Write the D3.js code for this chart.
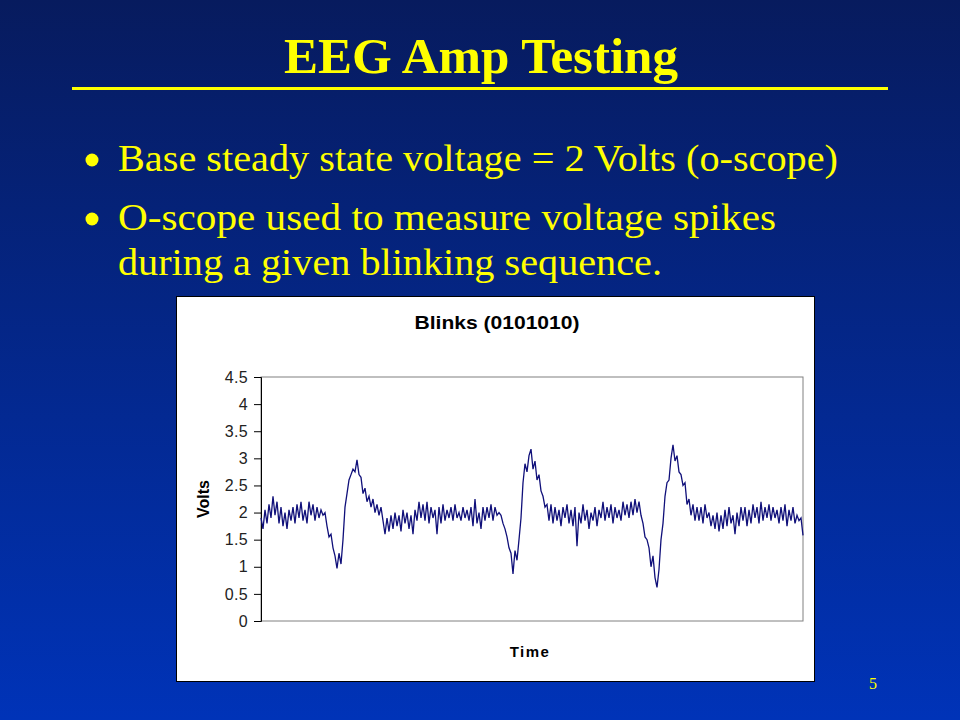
<!DOCTYPE html>
<html><head><meta charset="utf-8">
<script src="https://cdn.jsdelivr.net/npm/d3@7/dist/d3.min.js"></script>
<style>body{margin:0;padding:0;overflow:hidden;}svg{display:block;}</style>
</head><body>
<script>
const slideTitle = "EEG Amp Testing";
const bullets = [
  ["Base steady state voltage = 2 Volts (o-scope)"],
  ["O-scope used to measure voltage spikes", "during a given blinking sequence."]
];
const chartTitle = "Blinks (0101010)";
const yLabel = "Volts";
const xLabel = "Time";
const pageNumber = "5";
const yTicks = [0, 0.5, 1, 1.5, 2, 2.5, 3, 3.5, 4, 4.5];
const volts = [
 1.9,1.7,2.05,1.8,2.15,1.9,2.3,1.95,2.2,1.8,
 2.1,1.75,2.0,1.7,2.05,1.85,2.1,1.8,2.15,1.9,
 2.2,1.85,2.05,1.8,2.2,1.95,2.15,1.85,2.1,1.9,
 2.05,1.95,2.0,1.75,1.55,1.6,1.35,1.2,0.97,1.25,
 1.05,1.5,2.1,2.35,2.6,2.7,2.8,2.75,2.97,2.7,
 2.65,2.35,2.45,2.2,2.3,2.1,2.25,2.0,2.15,1.95,
 2.1,1.85,1.6,1.9,1.65,1.95,1.7,2.0,1.75,1.95,
 1.65,2.05,1.8,2.0,1.7,1.95,1.6,2.05,1.85,2.2,
 1.9,2.15,1.85,2.2,1.8,2.1,1.9,2.05,1.6,2.1,
 1.8,2.15,1.85,2.05,1.9,2.1,1.85,2.15,1.9,2.0,
 1.85,2.1,1.9,2.05,1.85,2.1,1.75,2.25,1.8,2.0,
 1.7,2.1,1.85,2.1,1.9,2.15,1.85,2.1,1.95,2.0,
 1.95,1.8,1.7,1.55,1.35,1.25,0.87,1.3,1.12,1.5,
 1.9,2.55,2.9,2.75,3.05,3.17,2.8,2.95,2.6,2.7,
 2.4,2.3,2.1,2.15,1.85,2.15,1.8,2.1,1.85,2.05,
 1.75,2.1,1.9,2.15,1.8,2.05,1.75,2.1,1.38,2.0,
 1.8,2.15,1.85,2.05,1.7,2.0,1.85,2.1,1.75,2.05,
 1.9,2.2,1.85,2.1,1.9,2.15,1.8,2.1,1.9,2.05,
 1.85,2.2,1.95,2.15,1.9,2.2,1.95,2.25,2.0,2.2,
 1.95,1.8,1.55,1.5,1.35,1.0,1.2,0.8,0.62,0.95,
 1.5,1.8,2.3,2.55,2.6,3.0,3.25,2.95,3.05,2.75,
 2.7,2.5,2.55,2.15,2.25,1.95,2.15,1.85,2.1,1.85,
 2.1,1.8,2.15,1.9,2.0,1.75,1.95,1.7,2.0,1.65,
 1.95,1.7,2.05,1.75,2.1,1.8,1.95,1.6,2.0,1.75,
 2.1,1.85,2.1,1.75,2.05,1.8,2.15,1.9,2.1,1.8,
 2.2,1.85,2.1,1.9,2.15,1.85,2.1,1.9,2.05,1.8,
 2.1,1.85,2.15,1.75,2.05,1.85,2.1,1.8,1.95,1.85,
 1.9,1.58
];

const W = 960, H = 720;
const svg = d3.select("body").append("svg").attr("width", W).attr("height", H);
const defs = svg.append("defs");
const grad = defs.append("linearGradient").attr("id","bg").attr("x1",0).attr("y1",0).attr("x2",0).attr("y2",1);
grad.append("stop").attr("offset","0%").attr("stop-color","#071b5e");
grad.append("stop").attr("offset","100%").attr("stop-color","#0033b8");
svg.append("rect").attr("width",W).attr("height",H).attr("fill","url(#bg)");

const serif = "'Liberation Serif','Times New Roman',serif";
const sans = "'Liberation Sans',Arial,sans-serif";
const yellow = "#ffff00";

svg.append("text").attr("x",481).attr("y",73).attr("text-anchor","middle")
  .attr("font-family",serif).attr("font-weight","bold").attr("font-size",50)
  .attr("textLength",394).attr("lengthAdjust","spacingAndGlyphs")
  .attr("fill",yellow).text(slideTitle);
svg.append("rect").attr("x",72).attr("y",87).attr("width",816).attr("height",3).attr("fill",yellow);

const bulletY = [171, 230];
const lineWidths = [[720],[658, 544]];
bullets.forEach((lines, bi) => {
  svg.append("circle").attr("cx",92).attr("cy",bulletY[bi]-11).attr("r",6.5).attr("fill",yellow);
  lines.forEach((ln, li) => {
    svg.append("text").attr("x",118).attr("y",bulletY[bi] + li*45)
      .attr("font-family",serif).attr("font-size",38).attr("fill",yellow)
      .attr("textLength",lineWidths[bi][li]).attr("lengthAdjust","spacingAndGlyphs").text(ln);
  });
});

svg.append("text").attr("x",873).attr("y",689).attr("text-anchor","middle")
  .attr("font-family",serif).attr("font-size",16).attr("fill",yellow).text(pageNumber);

// chart box
svg.append("rect").attr("x",176.5).attr("y",296.5).attr("width",638).attr("height",385)
  .attr("fill","#ffffff").attr("stroke","#000").attr("stroke-width",1);

svg.append("text").attr("x",497).attr("y",329).attr("text-anchor","middle")
  .attr("font-family",sans).attr("font-weight","bold").attr("font-size",19)
  .attr("textLength",165).attr("lengthAdjust","spacingAndGlyphs")
  .attr("fill","#000").text(chartTitle);

const pl = 261, pr = 803, pt = 377, pb = 621;
const x = d3.scaleLinear().domain([0, volts.length-1]).range([pl, pr]);
const y = d3.scaleLinear().domain([0, 4.5]).range([pb, pt]);

svg.append("rect").attr("x",pl).attr("y",pt).attr("width",pr-pl).attr("height",pb-pt)
  .attr("fill","none").attr("stroke","#808080").attr("stroke-width",1);

const yAxis = d3.axisLeft(y).tickValues(yTicks).tickSize(7).tickFormat(d3.format("~g"));
const gy = svg.append("g").attr("transform",`translate(${pl},0)`).call(yAxis);
gy.select(".domain").attr("stroke","#000");
gy.selectAll(".tick line").attr("stroke","#000");
gy.selectAll(".tick text").attr("font-family",sans).attr("font-size",16).attr("fill","#222")
  .attr("x",-13).attr("letter-spacing",0.3);

svg.append("text").attr("transform","translate(209,499) rotate(-90)").attr("text-anchor","middle")
  .attr("font-family",sans).attr("font-weight","bold").attr("font-size",16).attr("fill","#000").text(yLabel);
svg.append("text").attr("x",530).attr("y",657).attr("text-anchor","middle")
  .attr("font-family",sans).attr("font-weight","bold").attr("font-size",15).attr("letter-spacing",1.5)
  .attr("fill","#000").text(xLabel);

const line = d3.line().x((d,i)=>x(i)).y(d=>y(d));
svg.append("path").datum(volts).attr("d",line).attr("fill","none")
  .attr("stroke","#10107a").attr("stroke-width",1.3).attr("stroke-linejoin","miter");
</script>
</body></html>
